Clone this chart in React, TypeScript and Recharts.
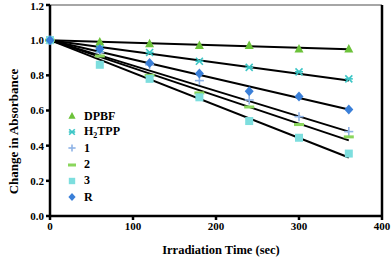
import React from 'react';
import { ComposedChart, Line, Scatter, XAxis, YAxis, ReferenceLine, Legend, Label } from 'recharts';

const times = [0, 60, 120, 180, 240, 300, 360];
const dpbf = [1.0, 0.99, 0.98, 0.97, 0.97, 0.95, 0.95];
const h2tpp = [1.0, 0.95, 0.93, 0.88, 0.845, 0.82, 0.78];
const s1 = [1.0, 0.93, 0.86, 0.77, 0.66, 0.565, 0.48];
const s2 = [1.0, 0.91, 0.8, 0.7, 0.62, 0.52, 0.45];
const s3 = [1.0, 0.86, 0.78, 0.675, 0.54, 0.445, 0.355];
const sR = [1.0, 0.95, 0.87, 0.81, 0.71, 0.68, 0.605];

const trendStartT = 0;
const trendEndT = 360;
const trendStart = [1.0, 1.0, 1.0, 1.0, 1.0, 1.0];
const trendEnd = [0.949, 0.771, 0.48, 0.43, 0.333, 0.606];

const seriesNames = ['DPBF', 'H2TPP', '1', '2', '3', 'R'];
const seriesValues = [dpbf, h2tpp, s1, s2, s3, sR];
const colors = ['#6cc23a', '#3cc6c6', '#8fb3e6', '#8ad65c', '#7ddede', '#3a7fd8'];
const xTicks = [0, 100, 200, 300, 400];
const yTicks = [0, 0.2, 0.4, 0.6, 0.8, 1.0, 1.2];

const FONT = '"Liberation Serif", "DejaVu Serif", serif';

function Marker({ kind, cx, cy, color, s = 1 }: { kind: number; cx: number; cy: number; color: string; s?: number }) {
  if (cx == null || cy == null) return null;
  switch (kind) {
    case 0:
      return <polygon points={`${cx},${cy - 5 * s} ${cx - 4.5 * s},${cy + 3.5 * s} ${cx + 4.5 * s},${cy + 3.5 * s}`} fill={color} />;
    case 1:
      return (
        <g stroke={color} strokeWidth={1.6}>
          <line x1={cx - 3.5 * s} y1={cy - 3.5 * s} x2={cx + 3.5 * s} y2={cy + 3.5 * s} />
          <line x1={cx - 3.5 * s} y1={cy + 3.5 * s} x2={cx + 3.5 * s} y2={cy - 3.5 * s} />
          <line x1={cx - 4 * s} y1={cy} x2={cx + 4 * s} y2={cy} />
        </g>
      );
    case 2:
      return (
        <g stroke={color} strokeWidth={1.6}>
          <line x1={cx - 4.5 * s} y1={cy} x2={cx + 4.5 * s} y2={cy} />
          <line x1={cx} y1={cy - 4.5 * s} x2={cx} y2={cy + 4.5 * s} />
        </g>
      );
    case 3:
      return <rect x={cx - 5 * s} y={cy - 1.5} width={10 * s} height={3} fill={color} />;
    case 4:
      return <rect x={cx - 4 * s} y={cy - 4 * s} width={8 * s} height={8 * s} fill={color} />;
    default:
      return <polygon points={`${cx},${cy - 5 * s} ${cx + 4.5 * s},${cy} ${cx},${cy + 5 * s} ${cx - 4.5 * s},${cy}`} fill={color} />;
  }
}

const scatterData = seriesValues.map((vals) => vals.map((v, i) => ({ t: times[i], v })));
const trendData = trendEnd.map((e, i) => [
  { t: trendStartT, v: trendStart[i] },
  { t: trendEndT, v: e },
]);

function LegendContent() {
  return (
    <div style={{ fontFamily: FONT, fontWeight: 'bold', fontSize: 12, color: '#000' }}>
      {seriesNames.map((n, i) => (
        <div key={n} style={{ height: 16.2, display: 'flex', alignItems: 'center' }}>
          <svg width={14} height={14} style={{ marginRight: 5 }}>
            <Marker kind={i} cx={7} cy={7} color={colors[i]} s={0.8} />
          </svg>
          <span>{n === 'H2TPP' ? (<>H<sub style={{ fontSize: 8 }}>2</sub>TPP</>) : n}</span>
        </div>
      ))}
    </div>
  );
}

export default function App() {
  return (
    <div style={{ position: 'absolute', left: 0, top: 0, background: '#fff' }}>
      <ComposedChart width={392} height={259} margin={{ top: 5, right: 10, left: 0, bottom: 0 }}>
        <XAxis
          dataKey="t"
          type="number"
          domain={[0, 400]}
          ticks={xTicks}
          allowDuplicatedCategory={false}
          height={43}
          axisLine={{ stroke: '#000', strokeWidth: 2.5 }}
          tickLine={{ stroke: '#000', strokeWidth: 2.5 }}
          tickSize={4}
          tick={{ fontFamily: FONT, fontWeight: 'bold', fontSize: 11, fill: '#000' }}
        >
          <Label
            value="Irradiation  Time (sec)"
            position="insideBottom"
            offset={5}
            dx={5}
            style={{ fontFamily: FONT, fontWeight: 'bold', fontSize: 12.5, fill: '#000' }}
          />
        </XAxis>
        <YAxis
          dataKey="v"
          type="number"
          domain={[0, 1.2]}
          ticks={yTicks}
          width={50}
          axisLine={{ stroke: '#000', strokeWidth: 2.5 }}
          tickLine={{ stroke: '#000', strokeWidth: 2.5 }}
          tickSize={4}
          tickFormatter={(v: number) => v.toFixed(1)}
          tick={{ fontFamily: FONT, fontWeight: 'bold', fontSize: 11, fill: '#000' }}
        >
          <Label
            value="Change in Absorbance"
            angle={-90}
            position="insideLeft"
            offset={13}
            dy={21}
            style={{ fontFamily: FONT, fontWeight: 'bold', fontSize: 13, fill: '#000', textAnchor: 'middle' }}
          />
        </YAxis>
        <ReferenceLine y={1.2} stroke="#888" strokeWidth={1.5} />
        <ReferenceLine x={400} stroke="#000" strokeWidth={2.5} />
        {trendData.map((d, i) => (
          <Line
            key={'l' + i}
            data={d}
            dataKey="v"
            stroke="#000"
            strokeWidth={2}
            dot={false}
            activeDot={false}
            isAnimationActive={false}
            legendType="none"
          />
        ))}
        {scatterData.map((d, i) => (
          <Scatter
            key={'s' + i}
            name={seriesNames[i]}
            data={d}
            dataKey="v"
            isAnimationActive={false}
            shape={(p: any) => <Marker kind={i} cx={p.cx} cy={p.cy} color={colors[i]} />}
          />
        ))}
        <Legend
          layout="vertical"
          align="center"
          verticalAlign="middle"
          content={() => <LegendContent />}
          wrapperStyle={{ left: 65, top: 108, width: 90, height: 100 }}
        />
      </ComposedChart>
    </div>
  );
}
